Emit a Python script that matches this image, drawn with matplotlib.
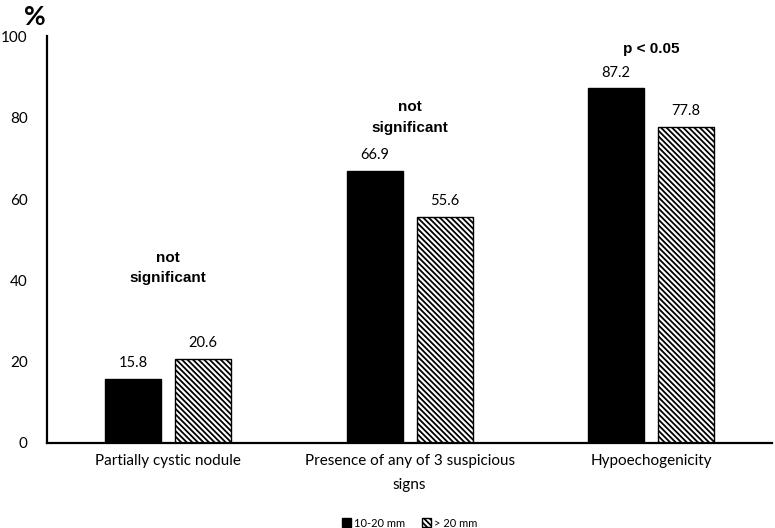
import numpy as np
import matplotlib.pyplot as plt

categories = ["Partially cystic nodule", "Presence of any of 3 suspicious\nsigns", "Hypoechogenicity"]
small = [15.8, 66.9, 87.2]
large = [20.6, 55.6, 77.8]
notes = ["not\nsignificant", "not\nsignificant", "p < 0.05"]
note_y = [43, 80, 97]

plt.rcParams['font.family'] = ['Lato', 'DejaVu Sans']

fig = plt.figure(figsize=(7.75, 5.28), dpi=100)
ax = fig.add_axes([0.061, 0.161, 0.935, 0.77])

x = np.arange(len(categories))
w = 0.232
off = 0.145
plt.rcParams['hatch.linewidth'] = 1.3
b1 = ax.bar(x - off, small, w, color="black", edgecolor="black", label="10-20 mm")
b2 = ax.bar(x + off, large, w, color="white", edgecolor="black", hatch="\\" * 6, linewidth=1, label="> 20 mm")

for xi, v in zip(x - off, small):
    ax.text(xi, v + 2.2, f"{v:.1f}", ha="center", va="bottom", fontsize=10.5)
for xi, v in zip(x + off, large):
    ax.text(xi, v + 2.2, f"{v:.1f}", ha="center", va="bottom", fontsize=10.5)

for xi, n, y in zip(x, notes, note_y):
    ax.text(xi, y, n, ha="center", va="center", fontsize=11, family="Liberation Sans",
            fontweight="bold", linespacing=1.6)

ax.set_xlim(-0.5, 2.5)
ax.set_ylim(0, 100)
ax.set_yticks(range(0, 101, 20))
ax.set_xticks(x)
ax.set_xticklabels(categories, fontsize=11, linespacing=1.9)
ax.tick_params(length=0, pad=8, labelsize=11)
ax.tick_params(axis="y", pad=14)
for s in ["top", "right"]:
    ax.spines[s].set_visible(False)
ax.spines["left"].set_linewidth(1.6)
ax.spines["bottom"].set_linewidth(1.6)

fig.text(0.045, 0.968, "%", fontsize=19, fontweight="bold", ha="center", va="center")

ax.legend(loc="lower center", bbox_to_anchor=(0.5, -0.235), ncol=2, frameon=False,
          fontsize=8, handlelength=0.8, handleheight=0.8, columnspacing=1.5, handletextpad=0.3)

fig.savefig("out.png", dpi=100)
